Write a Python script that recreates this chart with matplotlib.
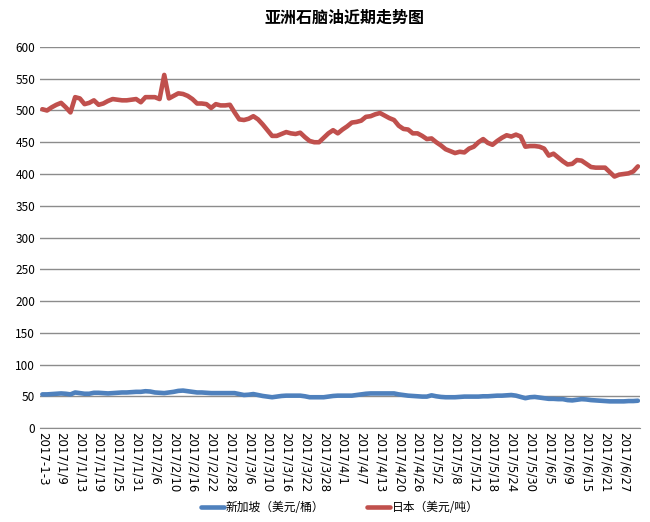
import matplotlib
matplotlib.use("Agg")
import matplotlib.pyplot as plt

plt.rcParams['font.family'] = ['Noto Sans CJK SC', 'DejaVu Sans']

title = "亚洲石脑油近期走势图"

date_labels = ["2017-1-3", "2017/1/9", "2017/1/13", "2017/1/19", "2017/1/25", "2017/1/31",
               "2017/2/6", "2017/2/10", "2017/2/16", "2017/2/22", "2017/2/28",
               "2017/3/6", "2017/3/10", "2017/3/16", "2017/3/22", "2017/3/28",
               "2017/4/1", "2017/4/7", "2017/4/13", "2017/4/20", "2017/4/26",
               "2017/5/2", "2017/5/8", "2017/5/12", "2017/5/18", "2017/5/24", "2017/5/30",
               "2017/6/5", "2017/6/9", "2017/6/15", "2017/6/21", "2017/6/27"]

# 新加坡 美元/桶
singapore = [53, 53, 53.5, 54, 54.5, 54, 53, 56, 55, 54, 54, 55.5, 55.5,
             55, 54.5, 55, 55.5, 56, 56, 56.5, 57, 57, 58, 57.5, 56, 55.5,
             55, 56, 57, 58.5, 59, 58, 57, 56, 56, 55.5, 55, 55, 55, 55,
             55, 55, 53.5, 52, 52.5, 53.5, 52, 50.5, 49.5, 48.5, 49.5, 50.5,
             51, 51, 51, 51, 50, 48.5, 48.5, 48.5, 48.5, 49.5, 50.5, 51, 51,
             51, 51, 52, 53, 54, 54.5, 54.5, 54.5, 54.5, 54.5, 54.5, 53, 52,
             51, 50.5, 50, 49.5, 49.5, 51.5, 50, 49, 48.5, 48.5, 48.5, 49,
             49.5, 49.5, 49.5, 49.5, 50, 50, 50.5, 51, 51, 51.5, 52, 51, 49,
             47, 48.5, 49, 48, 47, 46, 46, 45.5, 45.5, 44, 43.5, 44.5, 45.5,
             45, 44, 43.5, 43, 42.5, 42, 42, 42, 42, 42.5, 42.5, 43]

# 日本 美元/吨
japan = [502, 500, 505, 509, 512, 505, 497, 521, 519, 510, 512, 516, 509,
         511, 515, 518, 517, 516, 516, 517, 518, 513, 521, 521, 521, 518,
         556, 519, 523, 527, 526, 523, 518, 511, 511, 510, 504, 510, 508,
         508, 509, 497, 486, 485, 487, 491, 486, 478, 469, 460, 460, 463,
         466, 464, 463, 465, 458, 452, 450, 450, 457, 464, 469, 464, 470,
         475, 481, 482, 484, 490, 491, 494, 496, 492, 488, 485, 476, 471,
         470, 464, 464, 460, 455, 456, 450, 445, 439, 436, 433, 435, 434,
         440, 443, 450, 455, 449, 446, 452, 457, 461, 459, 462, 459, 443,
         444, 444, 443, 440, 429, 432, 426, 420, 415, 416, 422, 421, 416,
         411, 410, 410, 410, 403, 396, 399, 400, 401, 404, 412]

fig = plt.figure(figsize=(6.5, 5.22), dpi=100)
ax = fig.add_axes([0.0615, 0.18, 0.9235, 0.73])

x = range(len(japan))
ax.plot(x, singapore, color="#4F81BD", lw=3.3, label="新加坡（美元/桶）", solid_capstyle="round")
ax.plot(x, japan, color="#C0504D", lw=3.3, label="日本（美元/吨）", solid_capstyle="round")

ax.set_xlim(-0.5, len(japan) - 0.5)
ax.set_ylim(0, 600)
ax.set_yticks(range(0, 601, 50))
ax.set_xticks(range(0, len(japan), 4))
ax.set_xticklabels(date_labels, rotation=-90, fontsize=8, family=['DejaVu Sans'])
ax.tick_params(axis="both", length=0, labelsize=8.5)
ax.tick_params(axis="x", pad=3)
ax.grid(axis="y", color="#8c8c8c", lw=1)
ax.set_axisbelow(True)
for s in ["left", "right", "top"]:
    ax.spines[s].set_visible(False)
ax.spines["bottom"].set_color("#8c8c8c")

fig.text(0.53, 0.966, title, fontsize=11.5, fontweight="bold", ha="center", va="center")
fig.legend(loc="lower center", ncol=2, frameon=False, fontsize=8.5,
           bbox_to_anchor=(0.523, -0.005), handlelength=1.9, handletextpad=0.2,
           columnspacing=3.6)

fig.savefig("out.png", dpi=100)
